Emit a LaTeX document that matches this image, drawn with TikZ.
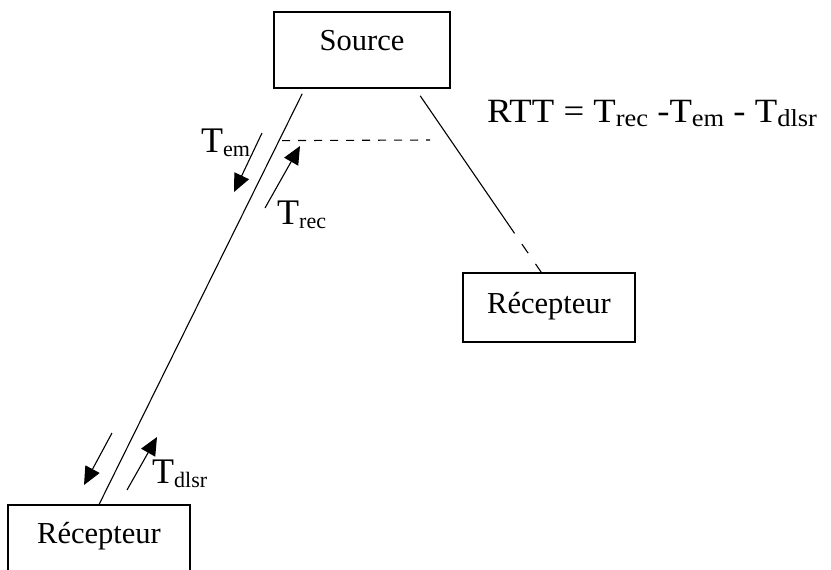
\documentclass[tikz,border=0pt]{standalone}
\usepackage{fontspec}
\setmainfont{Liberation Serif}
\newfontfamily\widefont[FakeStretch=1.08]{Liberation Serif}
\usetikzlibrary{arrows.meta,calc}
% text sizes
\newcommand{\boxfont}{\fontsize{30.5}{32}\selectfont}
\newcommand{\eqfont}{\widefont\fontsize{34}{34}\selectfont}
% a large T with a lowered index, for the delay labels
\newcommand{\lbl}[1]{{\fontsize{36}{36}\selectfont T}\raisebox{-4pt}{\fontsize{22}{22}\selectfont #1}}
% lowered index inside the formula
\newcommand{\eqsub}[1]{\raisebox{-4pt}{\fontsize{24.5}{25}\selectfont #1}}

\begin{document}
\begin{tikzpicture}[x=1pt,y=-1pt,
  station/.style={draw, line width=1.6pt, inner sep=0pt, font=\boxfont},
  wire/.style={line width=1.1pt},
  flow/.style={line width=1.1pt, -{Triangle[length=18pt,width=16pt]}},
  tag/.style={anchor=base west, inner sep=0pt}]
\useasboundingbox (0,0) rectangle (831,570);

% stations
\node[station, minimum width=176pt, minimum height=76pt,
      text height=20pt, text depth=20pt] (src) at (362,50) {Source};
\node[station, minimum width=172pt, minimum height=69pt,
      text height=25pt, text depth=14pt] (rxa) at (549,307.5) {Récepteur};
\node[station, minimum width=182pt, minimum height=66pt,
      text height=25pt, text depth=15pt] (rxb) at (99,538) {Récepteur};

% link to the far receiver
\coordinate (l0) at ([xshift=29pt,yshift=-5pt]src.south west);
\coordinate (l1) at ([xshift=92pt]rxb.north west);
\draw[wire] (l0) -- (l1);
\path (l0) -- (l1) coordinate[pos=0.114] (hl);

% link to the near receiver, fading out in dashes
\coordinate (r0) at ([xshift=147pt,yshift=-7pt]src.south west);
\coordinate (r1) at ([xshift=79pt]rxa.north west);
\path (r0) -- (r1) coordinate[pos=0.78] (rm);
\draw[wire] (r0) -- (rm);
\draw[wire, dash pattern=on 11pt off 13pt, dash phase=11pt] (rm) -- (r1);

% reference level
\coordinate (hr) at (430,140);
\draw[wire, dash pattern=on 8pt off 8pt] ([xshift=3pt]hl) -- (hr);

% send / receive arrows along the link
\coordinate (ea) at (262,133);  \coordinate (eb) at (234,192);
\coordinate (ra) at (265,208);  \coordinate (rb) at (300,146);
\coordinate (da) at (112,433);  \coordinate (db) at (84,485);
\coordinate (ua) at (127,490);  \coordinate (ub) at (157,437);
\draw[flow] (ea) -- (eb);
\draw[flow] (ra) -- (rb);
\draw[flow] (da) -- (db);
\draw[flow] (ua) -- (ub);

% delay labels
\node[tag] (lem) at (201,152) {\lbl{em}};
\node[tag] (lrec) at (277,224) {\lbl{rec}};
\node[tag] (ldlsr) at (152,483) {\lbl{dlsr}};

% formula
\node[tag, font=\eqfont] (rtt) at (487,122)
  {RTT = T\eqsub{rec} -T\eqsub{em} - T\eqsub{dlsr}};
\end{tikzpicture}
\end{document}
